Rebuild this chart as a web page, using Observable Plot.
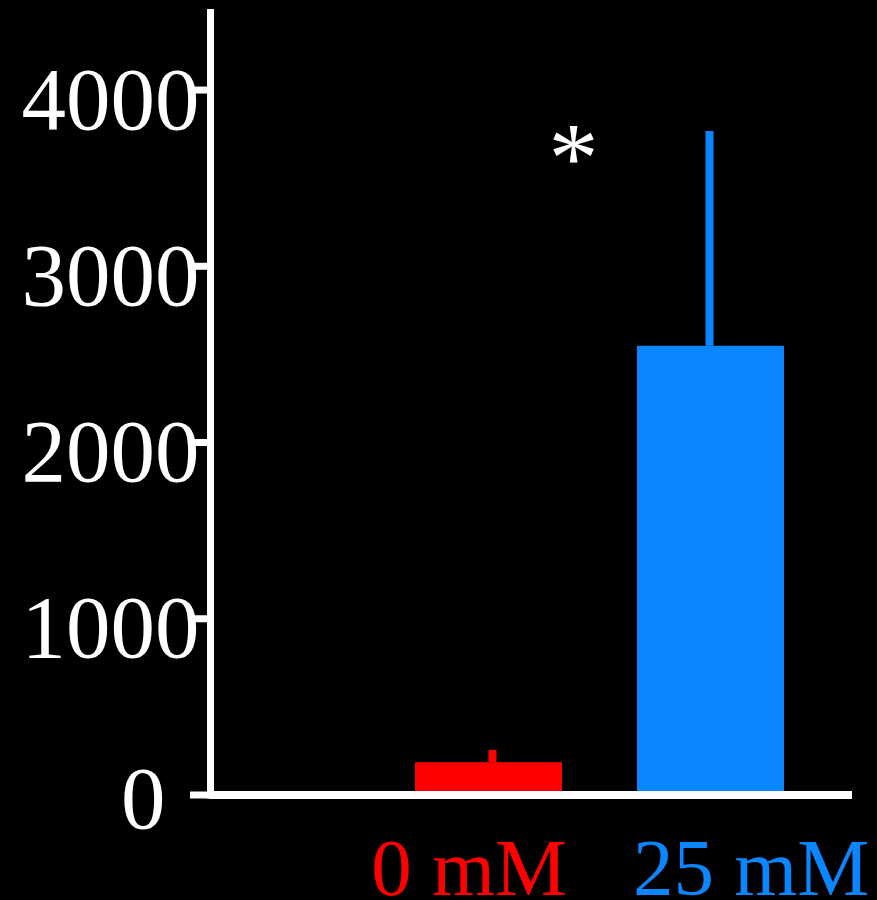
<!DOCTYPE html>
<html><head><meta charset="utf-8">
<script src="https://cdn.jsdelivr.net/npm/d3@7"></script>
<script src="https://cdn.jsdelivr.net/npm/@observablehq/plot@0.6"></script>
<style>html,body{margin:0;padding:0;background:#000;}</style>
</head><body><div id="chart"></div>
<script>
const categories = ["0 mM", "25 mM"];
const means = [183, 2546];
const errors = [70, 1219];
const colors = ["#ff0000", "#0a86ff"];
const yTicks = [1000, 2000, 3000, 4000];
const zeroTick = [0];
const stars = [{category: "25 mM", value: 3610, label: "*"}];

const data = categories.map((c, i) => ({category: c, mean: means[i], err: errors[i], color: colors[i]}));
const font = "'Liberation Serif', 'Times New Roman', Times, serif";

const chart = Plot.plot({
  width: 877,
  height: 900,
  marginLeft: 210,
  marginRight: 25,
  marginTop: 12,
  marginBottom: 105.5,
  style: {background: "black", color: "white", fontFamily: font},
  x: {domain: categories, range: [415, 784], paddingInner: 0.338, paddingOuter: 0, axis: null},
  y: {domain: [0, 4440], range: [794.5, 12], axis: null},
  color: {type: "identity"},
  marks: [
    Plot.barY(data, {x: "category", y: "mean", fill: "color"}),
    Plot.ruleX(data.slice(0, 1), {x: "category", y1: "mean", y2: d => d.mean + d.err, stroke: "color", strokeWidth: 8, dx: 3.5}),
    Plot.ruleX(data.slice(1), {x: "category", y1: "mean", y2: d => d.mean + d.err, stroke: "color", strokeWidth: 8, dx: -1.5}),
    Plot.frame({anchor: "left", stroke: "white", strokeWidth: 7}),
    Plot.ruleY([0], {stroke: "white", strokeWidth: 8}),
    Plot.axisY(yTicks.concat(zeroTick), {anchor: "left", tickSize: 20, strokeWidth: 7, tickFormat: () => ""}),
    Plot.text(yTicks, {y: d => d, text: d => String(d), frameAnchor: "left", textAnchor: "end", dx: -11, dy: 10, fontSize: 89, fill: "white"}),
    Plot.text(zeroTick, {y: d => d, text: d => String(d), frameAnchor: "left", textAnchor: "end", dx: -45, dy: 5, fontSize: 89, fill: "white"}),
    Plot.text([categories[0]], {x: d => d, text: d => d, frameAnchor: "bottom", lineAnchor: "top", textAnchor: "end", dx: 78, dy: 42, fontSize: 81, fill: colors[0]}),
    Plot.text([categories[1]], {x: d => d, text: d => d, frameAnchor: "bottom", lineAnchor: "top", textAnchor: "start", dx: -78, dy: 42, fontSize: 81, fill: colors[1]}),
    Plot.text(stars, {x: "category", y: "value", text: "label", dx: -137.5, fontSize: 100, fill: "white"})
  ]
});
document.getElementById("chart").appendChild(chart);
</script>
</body></html>
